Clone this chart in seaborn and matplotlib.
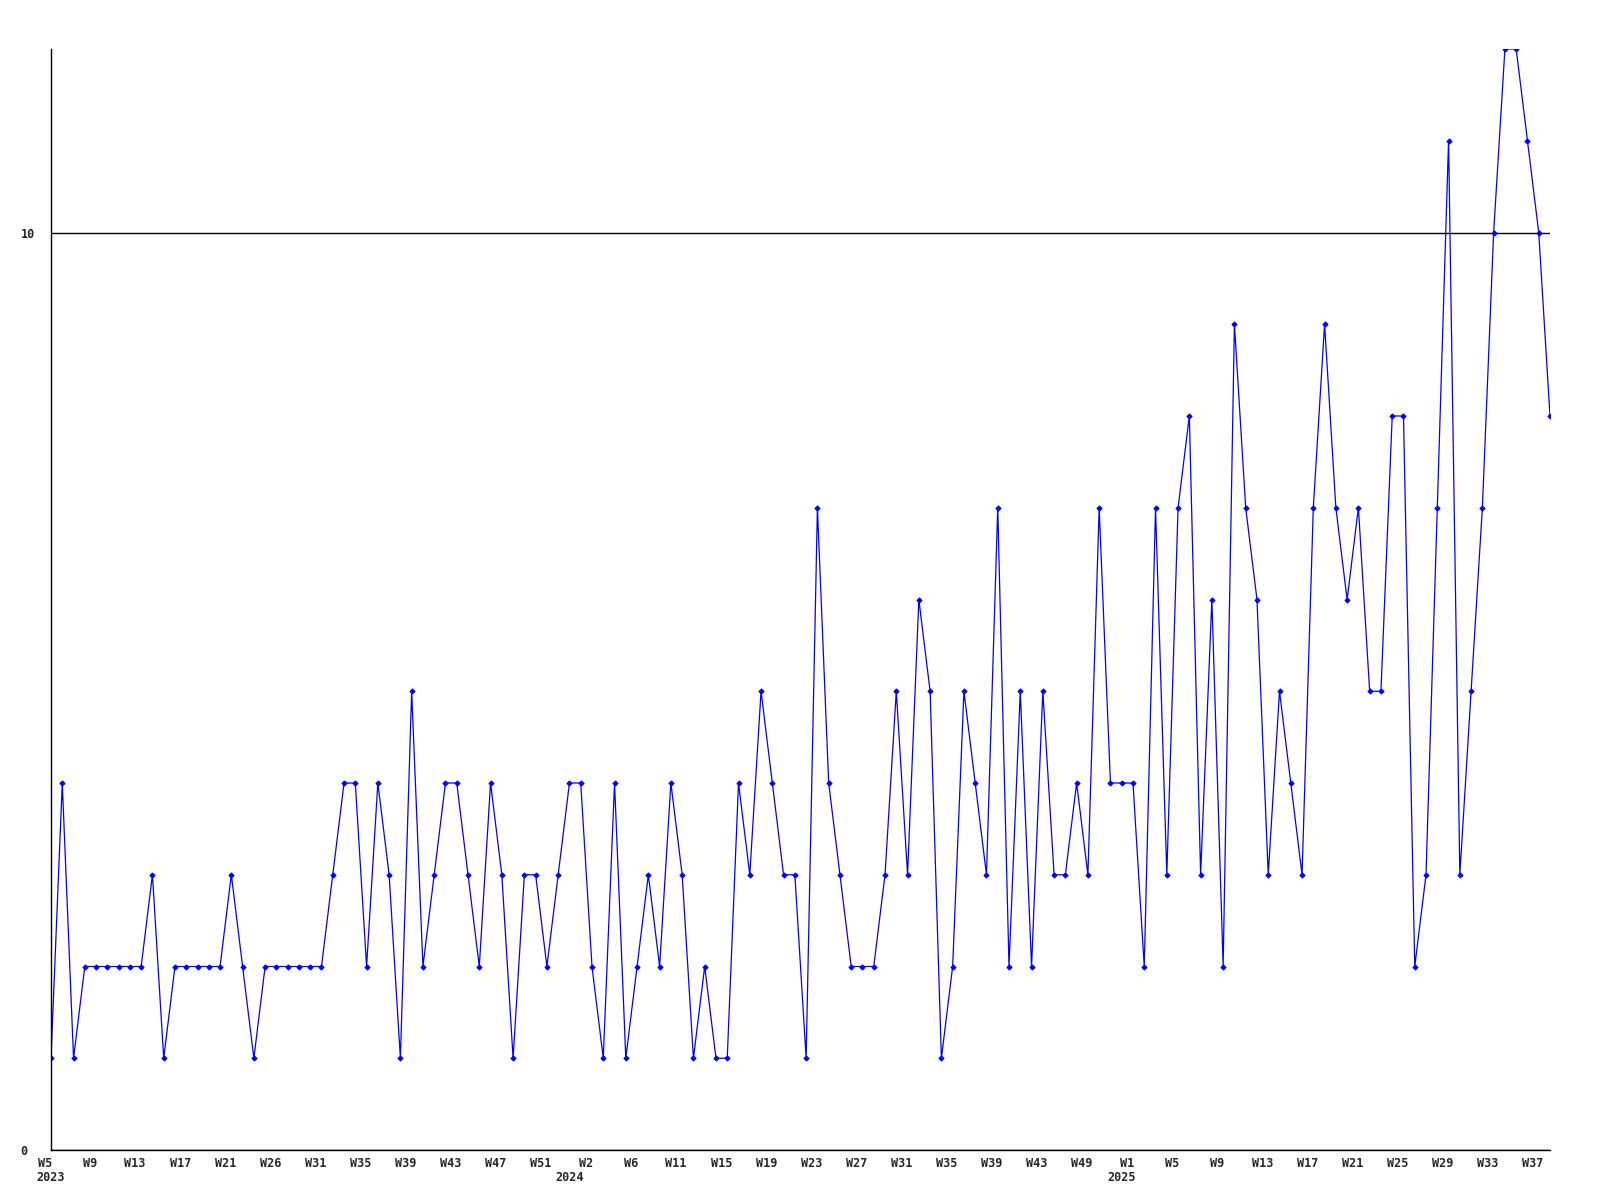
import numpy as np
import pandas as pd
import matplotlib
matplotlib.use("Agg")
import matplotlib.pyplot as plt
import matplotlib.transforms as mtransforms
import seaborn as sns

# weekly counts, W5 2023 .. W38 2025
counts = [1, 4, 1, 2, 2, 2, 2, 2, 2, 3,
          1, 2, 2, 2, 2, 2, 3, 2, 1, 2,
          2, 2, 2, 2, 2, 3, 4, 4, 2, 4,
          3, 1, 5, 2, 3, 4, 4, 3, 2, 4,
          3, 1, 3, 3, 2, 3, 4, 4, 2, 1,
          4, 1, 2, 3, 2, 4, 3, 1, 2, 1,
          1, 4, 3, 5, 4, 3, 3, 1, 7, 4,
          3, 2, 2, 2, 3, 5, 3, 6, 5, 1,
          2, 5, 4, 3, 7, 2, 5, 2, 5, 3,
          3, 4, 3, 7, 4, 4, 4, 2, 7, 3,
          7, 8, 3, 6, 2, 9, 7, 6, 3, 5,
          4, 3, 7, 9, 7, 6, 7, 5, 5, 8,
          8, 2, 3, 7, 11, 3, 5, 7, 10, 12,
          12, 11, 10, 8]

week_labels = ["W5", "W9", "W13", "W17", "W21", "W26", "W31", "W35", "W39", "W43", "W47", "W51",
               "W2", "W6", "W11", "W15", "W19", "W23", "W27", "W31", "W35", "W39", "W43", "W49",
               "W1", "W5", "W9", "W13", "W17", "W21", "W25", "W29", "W33", "W37"]
years = ["2023", "2024", "2025"]
year_pos = [0, 46, 95]

df = pd.DataFrame({"idx": np.arange(len(counts)), "count": counts})

sns.set_style("white")
plt.rcParams['font.family'] = ['DejaVu Sans Mono']

fig = plt.figure(figsize=(16, 12), dpi=100)
ax = fig.add_axes([51/1600, 1 - 1150/1200, 1499/1600, 1101/1200])

sns.lineplot(data=df, x="idx", y="count", ax=ax, color="#0000ff", linewidth=0.9,
             marker="D", markersize=2.6, markeredgecolor="#0000ff", markerfacecolor="#0000ff")

ax.set_xlim(0, len(counts) - 1)
ax.set_ylim(0, 12)
ax.set_xlabel("")
ax.set_ylabel("")

ax.set_yticks([0, 10])
ax.set_yticklabels(["0", "10"], fontsize=8.5, fontweight="bold", ha="left")
ax.tick_params(axis="y", length=0, pad=22)
ax.yaxis.grid(True, color="black", linewidth=1)

ax.set_xticks(np.arange(0, len(counts), 4)[:len(week_labels)])
ax.set_xticklabels(week_labels, fontsize=8.5, fontweight="bold")
ax.tick_params(axis="x", length=0, pad=5)
shift = mtransforms.ScaledTranslation(-6/100, 0, fig.dpi_scale_trans)
for lab in ax.get_xticklabels():
    lab.set_transform(lab.get_transform() + shift)

trans = ax.get_xaxis_transform()
for yr, pos in zip(years, year_pos):
    ax.text(pos, -0.025, yr, transform=trans, ha="center", va="center",
            fontsize=8.5, fontweight="bold")

for s in ["top", "right"]:
    ax.spines[s].set_visible(False)
for s in ["left", "bottom"]:
    ax.spines[s].set_color("black")
    ax.spines[s].set_linewidth(1)

fig.savefig("out.png", dpi=100)
